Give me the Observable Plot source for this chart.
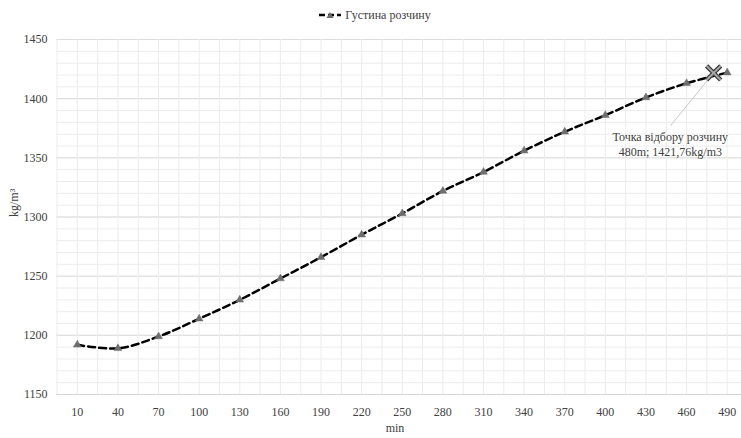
<!DOCTYPE html>
<html>
<head>
<meta charset="utf-8">
<script src="https://cdn.jsdelivr.net/npm/d3@7"></script>
<script src="https://cdn.jsdelivr.net/npm/@observablehq/plot@0.6"></script>
<style>
  html, body { margin: 0; padding: 0; background: #fff; overflow: hidden; }
  #legend { height: 30px; display: flex; justify-content: center; align-items: center;
    font-family: "Liberation Serif", "Times New Roman", Tinos, "DejaVu Serif", serif; font-size: 12px; color: #404040; padding-left: 8px; box-sizing: border-box; }
  #legend svg { margin-right: 3px; }
</style>
</head>
<body>
<div id="legend">
  <svg width="24" height="10"><line x1="1" y1="5" x2="23" y2="5" stroke="#000" stroke-width="2.5" stroke-dasharray="6,3"/><path d="M12,2 L15.5,8 L8.5,8 Z" fill="#6e6e6e"/></svg>
  <span>Густина розчину</span>
</div>
<div id="chart"></div>
<script>
// Data
const minutes = [10, 40, 70, 100, 130, 160, 190, 220, 250, 280, 310, 340, 370, 400, 430, 460, 490];
const density = [1192, 1189, 1199, 1214, 1230, 1248, 1266, 1285, 1303, 1322, 1338, 1356, 1372, 1386, 1401, 1413, 1422];
const yTicks = [1150, 1200, 1250, 1300, 1350, 1400, 1450];
const seriesName = "Густина розчину";
const sampleMin = [480];
const sampleDensity = [1421.76];
const sampleLabel = "Точка відбору розчину\n480m; 1421,76kg/m3";
const calloutMin = [448];
const calloutDensity = [1377];

const data = minutes.map((m, i) => ({min: m, density: density[i]}));
const sample = sampleMin.map((m, i) => ({min: m, density: sampleDensity[i], cmin: calloutMin[i], cdensity: calloutDensity[i]}));

const minorY = d3.range(1150, 1451, 10);
const gridX = d3.range(-5, 506, 15);
const textColor = "#404040";
const serif = '"Liberation Serif", "Times New Roman", Tinos, "DejaVu Serif", serif';

const chart = Plot.plot({
  width: 741,
  height: 408,
  marginTop: 9,
  marginBottom: 44,
  marginLeft: 56,
  marginRight: 0,
  style: {fontFamily: serif, fontSize: "12px", color: textColor, background: "#fff"},
  x: {domain: [-5, 505], range: [56.5, 747]},
  y: {domain: [1150, 1450]},
  marks: [
    Plot.gridY(minorY, {stroke: "#ececec", strokeOpacity: 1}),
    Plot.gridY(yTicks, {stroke: "#dcdcdc", strokeOpacity: 1}),
    Plot.gridX(gridX, {stroke: "#ececec", strokeOpacity: 1}),
    Plot.ruleY([1150], {stroke: "#d4d4d4"}),
    Plot.axisY({ticks: yTicks, tickSize: 0, tickPadding: 9, tickFormat: d => String(d), label: null, fontSize: 12, fontFamily: serif}),
    Plot.axisX({ticks: minutes, tickSize: 0, tickPadding: 13, tickFormat: d => String(d), label: null, fontSize: 12, fontFamily: serif}),
    Plot.text(["kg/m³"], {frameAnchor: "left", rotate: -90, dx: -42, text: d => d, fontSize: 12, fill: textColor, fontFamily: serif}),
    Plot.text(["min"], {frameAnchor: "bottom", dy: 37, dx: -4, text: d => d, fontSize: 12, fill: textColor, fontFamily: serif}),
    Plot.line(data, {x: "min", y: "density", curve: "catmull-rom", stroke: "#000", strokeWidth: 2.5, strokeDasharray: "7,4"}),
    Plot.dot(data, {x: "min", y: "density", symbol: "triangle", r: 2.9, fill: "#6e6e6e", stroke: "#6e6e6e", strokeWidth: 0.5}),
    Plot.link(sample, {x1: "min", y1: "density", x2: "cmin", y2: "cdensity", stroke: "#c8c8c8", strokeWidth: 1}),
    Plot.dot(sample, {x: "min", y: "density", symbol: "times", r: 6.5, stroke: "#3a3a3a", strokeWidth: 4.5}),
    Plot.dot(sample, {x: "min", y: "density", symbol: "times", r: 6.5, stroke: "#a8a8a8", strokeWidth: 2}),
    Plot.text(sample, {x: "cmin", y: "cdensity", text: () => sampleLabel, lineAnchor: "top", dy: 4, lineHeight: 1.25, fontSize: 12, fill: textColor, textAnchor: "middle", fontFamily: serif})
  ]
});
document.getElementById("chart").appendChild(chart);
</script>
</body>
</html>
